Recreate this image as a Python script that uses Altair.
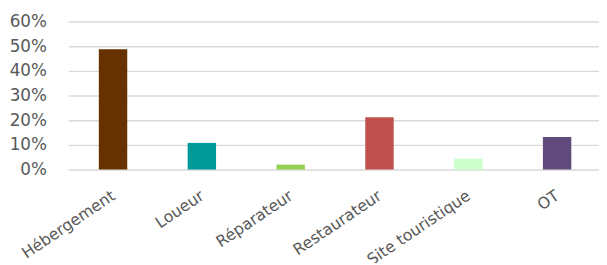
import altair as alt
import pandas as pd

categories = ["Hébergement", "Loueur", "Réparateur", "Restaurateur", "Site touristique", "OT"]
values = [0.488, 0.108, 0.02, 0.212, 0.044, 0.132]
colors = ["#663300", "#009999", "#92D050", "#C0504D", "#CCFFCC", "#604A7B"]

df = pd.DataFrame({"cat": categories, "val": values})

chart = alt.Chart(df).mark_bar().encode(
    x=alt.X("cat:N", sort=categories, title=None,
            scale=alt.Scale(paddingInner=0.68, paddingOuter=0.345, range=[0, 541], round=False),
            axis=alt.Axis(labelAngle=-34, labelAlign="right", labelBaseline="top",
                          labelFontSize=16, labelFont="DejaVu Sans", labelColor="#595959",
                          ticks=False, domain=False, labelPadding=18, labelOffset=-4)),
    y=alt.Y("val:Q", title=None,
            scale=alt.Scale(domain=[0, 0.6], nice=False),
            axis=alt.Axis(format=".0%", values=[0, 0.1, 0.2, 0.3, 0.4, 0.5, 0.6],
                          labelFontSize=17, labelFont="DejaVu Sans", labelColor="#595959",
                          ticks=False, domain=False, labelPadding=22,
                          gridColor="#d9d9d9", gridWidth=1.5)),
    color=alt.Color("cat:N", sort=categories, scale=alt.Scale(domain=categories, range=colors), legend=None),
).properties(
    width=538, height=150,
    autosize=alt.AutoSizeParams(type="none"),
    padding={"left": 61, "top": 12, "right": 0, "bottom": 93},
).configure_view(stroke=None)

chart.save("out.html", embed_options={"renderer": "svg", "actions": False})
